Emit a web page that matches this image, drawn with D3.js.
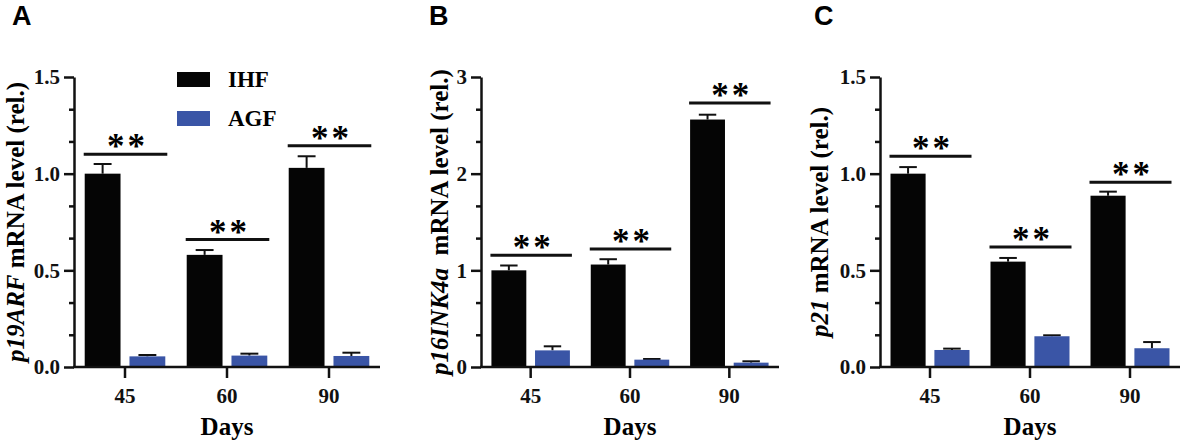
<!DOCTYPE html>
<html>
<head>
<meta charset="utf-8">
<script src="https://cdn.jsdelivr.net/npm/d3@7"></script>
<style>
	body { margin: 0; background: #fff; }
	svg { display: block; }
</style>
</head>
<body>
<div id="chart"></div>
<script>
///////////////////////////////////////////////////////////////////////////
//////////////////////////// data /////////////////////////////////////////
///////////////////////////////////////////////////////////////////////////

const days = ["45", "60", "90"];
const series = ["IHF", "AGF"];

// panel A: p19ARF
const p19IHF = [1.0, 0.58, 1.03];
const p19IHFErr = [0.05, 0.025, 0.06];
const p19AGF = [0.055, 0.059, 0.057];
const p19AGFErr = [0.007, 0.01, 0.017];
const p19Sig = [1.1, 0.659, 1.145];

// panel B: p16INK4a
const p16IHF = [1.0, 1.06, 2.56];
const p16IHFErr = [0.05, 0.055, 0.05];
const p16AGF = [0.172, 0.076, 0.045];
const p16AGFErr = [0.042, 0.007, 0.014];
const p16Sig = [1.155, 1.221, 2.731];

// panel C: p21
const p21IHF = [1.0, 0.545, 0.886];
const p21IHFErr = [0.034, 0.019, 0.021];
const p21AGF = [0.088, 0.159, 0.097];
const p21AGFErr = [0.007, 0.005, 0.032];
const p21Sig = [1.09, 0.621, 0.955];

const ticks15 = [0, 0.5, 1.0, 1.5];
const ticks3 = [0, 1, 2, 3];

///////////////////////////////////////////////////////////////////////////
//////////////////////////// drawing function /////////////////////////////
///////////////////////////////////////////////////////////////////////////

const colors = { IHF: "#050505", AGF: "#3a55a6" };
const serif = "'Liberation Serif', 'Times New Roman', serif";

const wrapper = d3
	.select("#chart")
	.append("svg")
	.attr("width", 1181)
	.attr("height", 444);

const drawPanel = (p) => {
	const top = 77;
	const bottom = 367;

	//////////////////////////// scales ///////////////////////////////////////

	const xScale = d3
		.scaleBand()
		.domain(days)
		.range([p.x0, p.x1])
		.paddingInner(0.21)
		.paddingOuter(0.105);

	const sScale = d3
		.scaleBand()
		.domain(series)
		.range([0, xScale.bandwidth()])
		.paddingInner(0.2);

	const yScale = d3.scaleLinear().domain([0, p.max]).range([bottom, top]);

	const g = wrapper.append("g");

	//////////////////////////// bars /////////////////////////////////////////

	const rows = [];
	days.forEach((d, i) => {
		rows.push({ day: d, s: "IHF", v: p.ihf[i], e: p.ihfErr[i] });
		rows.push({ day: d, s: "AGF", v: p.agf[i], e: p.agfErr[i] });
	});

	const bx = (d) => xScale(d.day) + sScale(d.s);

	// error bars (upper half only)
	const errs = g.selectAll(".err").data(rows).enter().append("g");
	errs
		.append("line")
		.attr("x1", (d) => bx(d) + sScale.bandwidth() / 2)
		.attr("x2", (d) => bx(d) + sScale.bandwidth() / 2)
		.attr("y1", (d) => yScale(d.v))
		.attr("y2", (d) => yScale(d.v + d.e))
		.attr("stroke", "#111")
		.attr("stroke-width", 2);
	errs
		.append("line")
		.attr("x1", (d) => bx(d) + sScale.bandwidth() * 0.25)
		.attr("x2", (d) => bx(d) + sScale.bandwidth() * 0.75)
		.attr("y1", (d) => yScale(d.v + d.e))
		.attr("y2", (d) => yScale(d.v + d.e))
		.attr("stroke", "#111")
		.attr("stroke-width", 2);

	g.selectAll(".bar")
		.data(rows)
		.enter()
		.append("rect")
		.attr("x", bx)
		.attr("y", (d) => yScale(d.v))
		.attr("width", sScale.bandwidth())
		.attr("height", (d) => yScale(0) - yScale(d.v))
		.attr("fill", (d) => colors[d.s]);

	//////////////////////////// significance /////////////////////////////////

	days.forEach((d, i) => {
		const xa = xScale(d) - 1;
		const xb = xScale(d) + xScale.bandwidth() + 2;
		const y = yScale(p.sig[i]);
		g.append("line")
			.attr("x1", xa)
			.attr("x2", xb)
			.attr("y1", y)
			.attr("y2", y)
			.attr("stroke", "#111")
			.attr("stroke-width", 3);
		g.append("text")
			.attr("x", (xa + xb) / 2 + 2)
			.attr("y", y + 4)
			.attr("text-anchor", "middle")
			.style("font-family", serif)
			.style("font-weight", "bold")
			.style("font-size", "35px")
			.style("letter-spacing", "3px")
			.text("**");
	});

	//////////////////////////// axes /////////////////////////////////////////

	// minor ticks
	const minor = [];
	for (let k = 0; k < p.ticks.length - 1; k++) {
		const step = (p.ticks[k + 1] - p.ticks[k]) / 3;
		minor.push(p.ticks[k] + step, p.ticks[k] + 2 * step);
	}
	g.append("g")
		.attr("transform", `translate(${p.x0},0)`)
		.call(d3.axisLeft(yScale).tickValues(minor).tickSize(5).tickFormat(""))
		.call((a) => a.select(".domain").remove())
		.selectAll("line")
		.attr("stroke", "#111")
		.attr("stroke-width", 2.5);

	const yAxis = g
		.append("g")
		.attr("transform", `translate(${p.x0},0)`)
		.call(
			d3
				.axisLeft(yScale)
				.tickValues(p.ticks)
				.tickSize(10)
				.tickSizeOuter(0)
				.tickPadding(4)
				.tickFormat(d3.format(p.fmt))
		);
	yAxis.select(".domain").attr("stroke", "#111").attr("stroke-width", 2.5);
	yAxis.selectAll("line").attr("stroke", "#111").attr("stroke-width", 2.5);
	yAxis
		.selectAll("text")
		.attr("fill", "#111")
		.style("font-family", serif)
		.style("font-weight", "bold")
		.style("font-size", "21px");

	const xAxis = g
		.append("g")
		.attr("transform", `translate(0,${bottom})`)
		.call(d3.axisBottom(xScale).tickSize(11).tickSizeOuter(0).tickPadding(10));
	xAxis
		.select(".domain")
		.attr("d", `M${p.x0 - 1},0H${p.x1}`)
		.attr("stroke", "#111")
		.attr("stroke-width", 2.5);
	xAxis.selectAll("line").attr("stroke", "#111").attr("stroke-width", 2.5);
	xAxis
		.selectAll("text")
		.attr("fill", "#111")
		.style("font-family", serif)
		.style("font-weight", "bold")
		.style("font-size", "21px");

	//////////////////////////// labels ///////////////////////////////////////

	g.append("text")
		.attr("x", (p.x0 + p.x1) / 2)
		.attr("y", 435)
		.attr("text-anchor", "middle")
		.style("font-family", serif)
		.style("font-weight", "bold")
		.style("font-size", "25px")
		.text("Days");

	const yl = g
		.append("text")
		.attr("transform", `translate(${p.x0 - p.labOff},${(top + bottom) / 2}) rotate(-90)`)
		.attr("text-anchor", "middle")
		.style("font-family", serif)
		.style("font-weight", "bold")
		.style("font-size", "25px");
	yl.append("tspan").style("font-style", "italic").text(p.gene);
	yl.append("tspan").text(p.rest);

	g.append("text")
		.attr("x", p.letterX)
		.attr("y", 25)
		.style("font-family", "'Liberation Sans', Arial, sans-serif")
		.style("font-weight", "bold")
		.style("font-size", "27px")
		.text(p.letter);

	//////////////////////////// legend ///////////////////////////////////////

	if (p.legend) {
		series.forEach((s, i) => {
			g.append("rect")
				.attr("x", 177)
				.attr("y", 72 + i * 39)
				.attr("width", 33)
				.attr("height", 15)
				.attr("fill", colors[s]);
			g.append("text")
				.attr("x", 228)
				.attr("y", 87 + i * 39)
				.style("font-family", serif)
				.style("font-weight", "bold")
				.style("font-size", "23px")
				.text(s);
		});
	}
};

drawPanel({
	letter: "A", letterX: 12, x0: 74, x1: 380, max: 1.5, ticks: ticks15, fmt: ".1f",
	ihf: p19IHF, ihfErr: p19IHFErr, agf: p19AGF, agfErr: p19AGFErr, sig: p19Sig,
	gene: "p19ARF", rest: " mRNA level (rel.)", labOff: 50, legend: true
});
drawPanel({
	letter: "B", letterX: 429, x0: 481, x1: 779, max: 3, ticks: ticks3, fmt: "d",
	ihf: p16IHF, ihfErr: p16IHFErr, agf: p16AGF, agfErr: p16AGFErr, sig: p16Sig,
	gene: "p16INK4a", rest: "\u00a0 mRNA level (rel.)", labOff: 33, legend: false
});
drawPanel({
	letter: "C", letterX: 814, x0: 880, x1: 1180, max: 1.5, ticks: ticks15, fmt: ".1f",
	ihf: p21IHF, ihfErr: p21IHFErr, agf: p21AGF, agfErr: p21AGFErr, sig: p21Sig,
	gene: "p21", rest: " mRNA level (rel.)", labOff: 52, legend: false
});
</script>
</body>
</html>
